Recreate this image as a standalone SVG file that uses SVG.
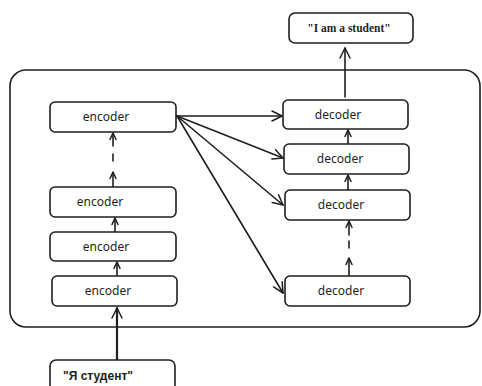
<svg xmlns="http://www.w3.org/2000/svg" width="482" height="386" viewBox="0 0 482 386">
<defs>
<marker id="ah" viewBox="0 0 12 12" refX="11" refY="6" markerWidth="12" markerHeight="12" markerUnits="userSpaceOnUse" orient="auto">
<path d="M1,1 L11,6 L1,11" fill="none" stroke="#1e1e1e" stroke-width="1.5" stroke-linecap="round" stroke-linejoin="round"/>
</marker>
<marker id="ahs" viewBox="0 0 8 8" refX="7.5" refY="4" markerWidth="8" markerHeight="8" markerUnits="userSpaceOnUse" orient="auto">
<path d="M1,1 L7.5,4 L1,7" fill="none" stroke="#1e1e1e" stroke-width="1.5" stroke-linecap="round" stroke-linejoin="round"/>
</marker>
</defs>
<style>
.box{fill:#fff;stroke:#1e1e1e;stroke-width:1.6}
.frame{fill:none;stroke:#1e1e1e;stroke-width:1.6}
.lbl{font-family:"Noto Sans","Open Sans",sans-serif;font-size:12px;fill:#1e1e1e;text-anchor:middle}
.ln{stroke:#1e1e1e;stroke-width:1.6;fill:none;stroke-linecap:round}
.thick{stroke-width:2.2}
</style>
<rect width="482" height="386" fill="#fff"/>
<g id="container"><rect class="frame" x="10" y="70" width="470" height="257" rx="16"/></g>
<g id="connectors">
<line class="ln" x1="345" y1="97" x2="345" y2="48" marker-end="url(#ah)"/>
<line class="ln thick" x1="117" y1="360" x2="117" y2="308" marker-end="url(#ah)"/>
<line class="ln" x1="117" y1="276" x2="117" y2="262" marker-end="url(#ahs)"/>
<line class="ln" x1="115" y1="232" x2="115" y2="218" marker-end="url(#ahs)"/>
<line class="ln" x1="113" y1="187" x2="113" y2="172" marker-end="url(#ahs)"/>
<line class="ln" x1="113" y1="154" x2="113" y2="161"/>
<line class="ln" x1="113" y1="146" x2="113" y2="133" marker-end="url(#ahs)"/>
<line class="ln" x1="349" y1="276" x2="349" y2="258" marker-end="url(#ahs)"/>
<line class="ln" x1="349" y1="241" x2="349" y2="248"/>
<line class="ln" x1="349" y1="235" x2="349" y2="221" marker-end="url(#ahs)"/>
<line class="ln" x1="348" y1="190" x2="348" y2="175" marker-end="url(#ahs)"/>
<line class="ln" x1="348" y1="144" x2="348" y2="130" marker-end="url(#ahs)"/>
<line class="ln" x1="177" y1="116" x2="282" y2="116" marker-end="url(#ah)"/>
<line class="ln" x1="177" y1="116" x2="283" y2="158" marker-end="url(#ah)"/>
<line class="ln" x1="177" y1="116" x2="283" y2="205" marker-end="url(#ah)"/>
<line class="ln" x1="177" y1="116" x2="283" y2="293" marker-end="url(#ah)"/>
</g>
<g id="output"><rect class="box" x="289" y="13" width="124" height="30" rx="6"/>
<text x="349" y="32" font-family="Liberation Serif,serif" font-weight="bold" font-size="11.5" fill="#1e1e1e" text-anchor="middle">"I am a student"</text></g>
<g id="encoder1"><rect class="box" x="50" y="102" width="126" height="30" rx="5"/><text class="lbl" x="106" y="121">encoder</text></g>
<g id="encoder2"><rect class="box" x="50" y="187" width="126" height="30" rx="5"/><text class="lbl" x="100" y="206">encoder</text></g>
<g id="encoder3"><rect class="box" x="50" y="232" width="126" height="29" rx="5"/><text class="lbl" x="106" y="251">encoder</text></g>
<g id="encoder4"><rect class="box" x="52" y="276" width="125" height="30" rx="5"/><text class="lbl" x="108" y="295">encoder</text></g>
<g id="decoder1"><rect class="box" x="283" y="100" width="125" height="29" rx="5"/><text class="lbl" x="338" y="119">decoder</text></g>
<g id="decoder2"><rect class="box" x="284" y="144" width="125" height="30" rx="5"/><text class="lbl" x="340" y="163">decoder</text></g>
<g id="decoder3"><rect class="box" x="285" y="190" width="125" height="30" rx="5"/><text class="lbl" x="341" y="209">decoder</text></g>
<g id="decoder4"><rect class="box" x="285" y="276" width="125" height="30" rx="5"/><text class="lbl" x="341" y="295">decoder</text></g>
<g id="input"><rect class="box" x="50" y="360" width="125" height="40" rx="6"/>
<text x="98" y="380" font-family="Liberation Sans,Arial,sans-serif" font-weight="bold" font-size="12" fill="#1e1e1e" text-anchor="middle">"Я студент"</text></g>
</svg>
